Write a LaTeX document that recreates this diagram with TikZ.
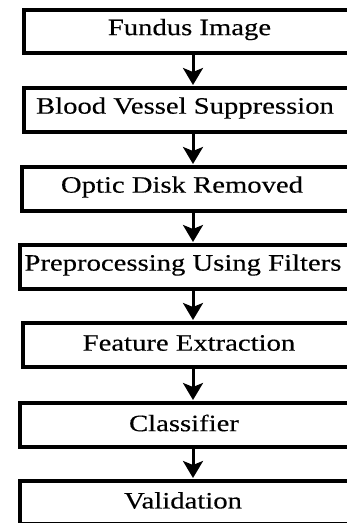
\documentclass[tikz,border=0pt]{standalone}
\usepackage{fontspec}
\setmainfont{Liberation Serif}[FakeStretch=1.22,FakeBold=0.3]
\usetikzlibrary{arrows.meta}
\begin{document}
\begin{tikzpicture}[x=1pt,y=-1pt,
  stagebox/.style={draw=black,line width=3.6pt,fill=white,inner sep=0pt,anchor=north west},
  label text/.style={font=\fontsize{23.5}{28}\selectfont,inner sep=0pt,text=black},
  flowarrow/.style={line width=3pt,
    -{Stealth[length=17pt,width=20pt,inset=4pt]},shorten >=1pt}]
\useasboundingbox (0,0) rectangle (347,523);
\clip (0,0) rectangle (347,523);
% stage boxes; their right sides run past the frame
\node[stagebox,minimum width=330pt,minimum height=43pt] (b1) at (22,8) {};
\node[stagebox,minimum width=330pt,minimum height=44pt] (b2) at (22,86) {};
\node[stagebox,minimum width=332pt,minimum height=44pt] (b3) at (20,165) {};
\node[stagebox,minimum width=334pt,minimum height=44pt] (b4) at (18,243) {};
\node[stagebox,minimum width=331pt,minimum height=44pt] (b5) at (21,321) {};
\node[stagebox,minimum width=334pt,minimum height=44pt] (b6) at (18,401) {};
\node[stagebox,minimum width=334pt,minimum height=43pt] (b7) at (18,479) {};
% labels
\node[label text] (t1) at (189.5,29.5) {Fundus Image};
\node[label text] (t2) at (185,108) {Blood Vessel Suppression};
\node[label text] (t3) at (182,187) {Optic Disk Removed};
\node[label text] (t4) at (183,265) {Preprocessing Using Filters};
\node[label text] (t5) at (189,343) {Feature Extraction};
\node[label text] (t6) at (184,423) {Classifier};
\node[label text] (t7) at (183,500.5) {Validation};
% arrows between consecutive stages
\coordinate (ax) at (193,0);
\foreach \a/\b in {b1/b2,b2/b3,b3/b4,b4/b5,b5/b6,b6/b7}
  \draw[flowarrow] (\a.south -| ax) -- (\b.north -| ax);
\end{tikzpicture}
\end{document}
